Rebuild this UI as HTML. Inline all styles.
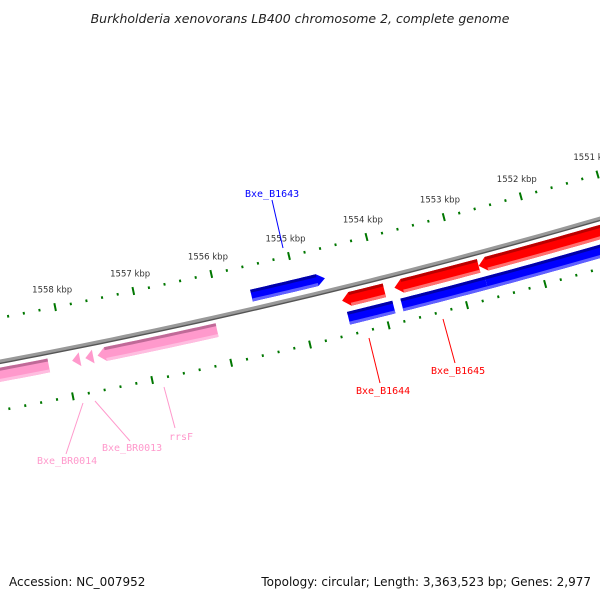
<!DOCTYPE html>
<html><head><meta charset="utf-8"><style>
body{margin:0;background:#fff;width:600px;height:600px;overflow:hidden}
svg{display:block}
.mono{font-family:"DejaVu Sans Mono","Liberation Mono",monospace;font-size:10px}
</style></head><body>
<svg id="map" width="600" height="600" viewBox="0 0 600 600" xmlns="http://www.w3.org/2000/svg">
<rect width="600" height="600" fill="#fff"/>
<text x="300" y="23" text-anchor="middle" font-family="'DejaVu Sans','Liberation Sans',sans-serif" font-style="italic" font-size="12.5" fill="#222">Burkholderia xenovorans LB400 chromosome 2, complete genome</text>
<text x="9" y="586" font-family="'DejaVu Sans','Liberation Sans',sans-serif" font-size="12" fill="#111">Accession: NC_007952</text>
<text x="591" y="586" text-anchor="end" font-family="'DejaVu Sans','Liberation Sans',sans-serif" font-size="12" fill="#111">Topology: circular; Length: 3,363,523 bp; Genes: 2,977</text>
<g id="layer"></g>
</svg>
<script>
// data
const tickMajors = [1550000,1551000,1552000,1553000,1554000,1555000,1556000,1557000,1558000,1559000];
const tickLabels = ["1550 kbp","1551 kbp","1552 kbp","1553 kbp","1554 kbp","1555 kbp","1556 kbp","1557 kbp","1558 kbp","1559 kbp"];
const featNames = ["Bxe_B1643","Bxe_B1644","Bxe_B1645a","Bxe_B1645b","blue-1","blue-2","blue-3","rrsF","Bxe_BR0013","Bxe_BR0014","pink-left"];
const featStart = [1555570,1554487,1553817,1552736,1554461,1553779,1552698,1557601,1557756,1557923,1559530];
const featEnd   = [1554628,1553946,1552736,1550300,1553882,1552698,1550300,1556082,1557656,1557823,1558219];
const featTrack = ["in","out","out","out","out2","out2","out2","out","out","out","out"];
const featArrow = ["end","start","start","start","none","none","none","start","start","start","none"];
const featColor = ["blue","red","red","red","blue","blue","blue","pink","pink","pink","pink"];
const labelText = ["Bxe_B1643","Bxe_B1644","Bxe_B1645","rrsF","Bxe_BR0013","Bxe_BR0014"];
const labelColor = ["#0000ff","#ff0000","#ff0000","#ff99cc","#ff99cc","#ff99cc"];

const cx=-1210, cy=-6046;
const NS="http://www.w3.org/2000/svg";
const layer=document.getElementById('layer');
const theta0=Math.atan2(256-cy,289-cx);
const Rt=Math.hypot(289-cx,256-cy);
const Rb=Rt+43, Rlow=Rt+91;
const k=79.8/Rt/1000;
function ang(bp){return theta0+(bp-1555000)*k;}
function pt(bp,r){const a=ang(bp);return [cx+r*Math.cos(a),cy+r*Math.sin(a)];}
function mk(tag,attrs){const e=document.createElementNS(NS,tag);for(const a in attrs)e.setAttribute(a,attrs[a]);layer.appendChild(e);return e;}
function arcPath(b1,b2,r){let d="";const n=60;for(let i=0;i<=n;i++){const p=pt(b1+(b2-b1)*i/n,r);d+=(i?"L":"M")+p[0].toFixed(2)+","+p[1].toFixed(2);}return d;}

// backbone
let e=mk('path',{d:arcPath(1560500,1549500,Rb),stroke:'#999',"stroke-width":4,fill:'none'});


e=mk('path',{d:arcPath(1560500,1549500,Rb+1.8),stroke:'#555',"stroke-width":1.4,fill:'none'});



// ticks
function drawTicks(R,ring){
  for(let bp=1549800;bp<=1560000;bp+=200){
    const major=bp%1000===0;
    const a=major?pt(bp,R-4):pt(bp,R-1.3), b=major?pt(bp,R+4):pt(bp,R+1.3);
    const t=mk('line',{x1:a[0],y1:a[1],x2:b[0],y2:b[1],stroke:'#007700',"stroke-width":2});
    
    
  }
}
drawTicks(Rt,'outer-ring');
drawTicks(Rlow,'inner-ring');
tickMajors.forEach((bp,i)=>{
  const p=pt(bp,Rt-15);
  const t=mk('text',{x:p[0],y:p[1],"text-anchor":"middle","font-family":"'DejaVu Sans','Liberation Sans',sans-serif","font-size":8.5,fill:'#333'});
  t.textContent=tickLabels[i];
  
  
});

// features
const cols={red:['#ff0000','#bb0000','#ff7070'],blue:['#0000ff','#0000a8','#6060ff'],pink:['#ff99cc','#c06a98','#ffbde0']};
const tracks={in:[Rb-19,Rb-7],out:[Rb+6,Rb+20],out2:[Rb+25,Rb+38]};
function body(s,en,arrow){
  const L=8/Rb/k;
  let sb=s,eb=en;
  if(arrow==='start'){sb=s-L; if(sb<eb)sb=eb;}
  if(arrow==='end'){eb=en+L; if(eb>sb)eb=sb;}
  return [sb,eb];
}
function featPoly(s,en,r1,r2,arrow,tipOn){
  const [sb,eb]=body(s,en,arrow);
  const pts=[];const n=20;
  for(let i=0;i<=n;i++)pts.push(pt(sb+(eb-sb)*i/n,r1));
  if(tipOn&&arrow==='end')pts.push(pt(en,(r1+r2)/2));
  for(let i=n;i>=0;i--)pts.push(pt(sb+(eb-sb)*i/n,r2));
  if(tipOn&&arrow==='start')pts.push(pt(s,(r1+r2)/2));
  return pts.map(p=>p[0].toFixed(2)+","+p[1].toFixed(2)).join(" ");
}
featNames.forEach((nm,i)=>{
  const [r1,r2]=tracks[featTrack[i]];const c=cols[featColor[i]];
  let f=mk('polygon',{points:featPoly(featStart[i],featEnd[i],r1,r2,featArrow[i],true),fill:c[0]});
  
  
  f=mk('polygon',{points:featPoly(featStart[i],featEnd[i],r1,r1+3,featArrow[i],false),fill:c[1]});
  
  
  f=mk('polygon',{points:featPoly(featStart[i],featEnd[i],r2-3,r2,featArrow[i],false),fill:c[2]});
  
  
});

// labels
const lblPos=[[245,197,272,200,283,248],[356,394,369,338,380,383],[431,374,443,319,455,363],[169,440,164,387,175,428],[102,451,95,401,130,441],[37,464,83,403,66,454]];
labelText.forEach((t,i)=>{
  const q=lblPos[i];
  const l=mk('line',{x1:q[2],y1:q[3],x2:q[4],y2:q[5],stroke:labelColor[i],"stroke-width":1});
  
  
  const tx=mk('text',{x:q[0],y:q[1],class:'mono',fill:labelColor[i]});
  tx.textContent=t;
  
  
});
</script>
</body></html>
